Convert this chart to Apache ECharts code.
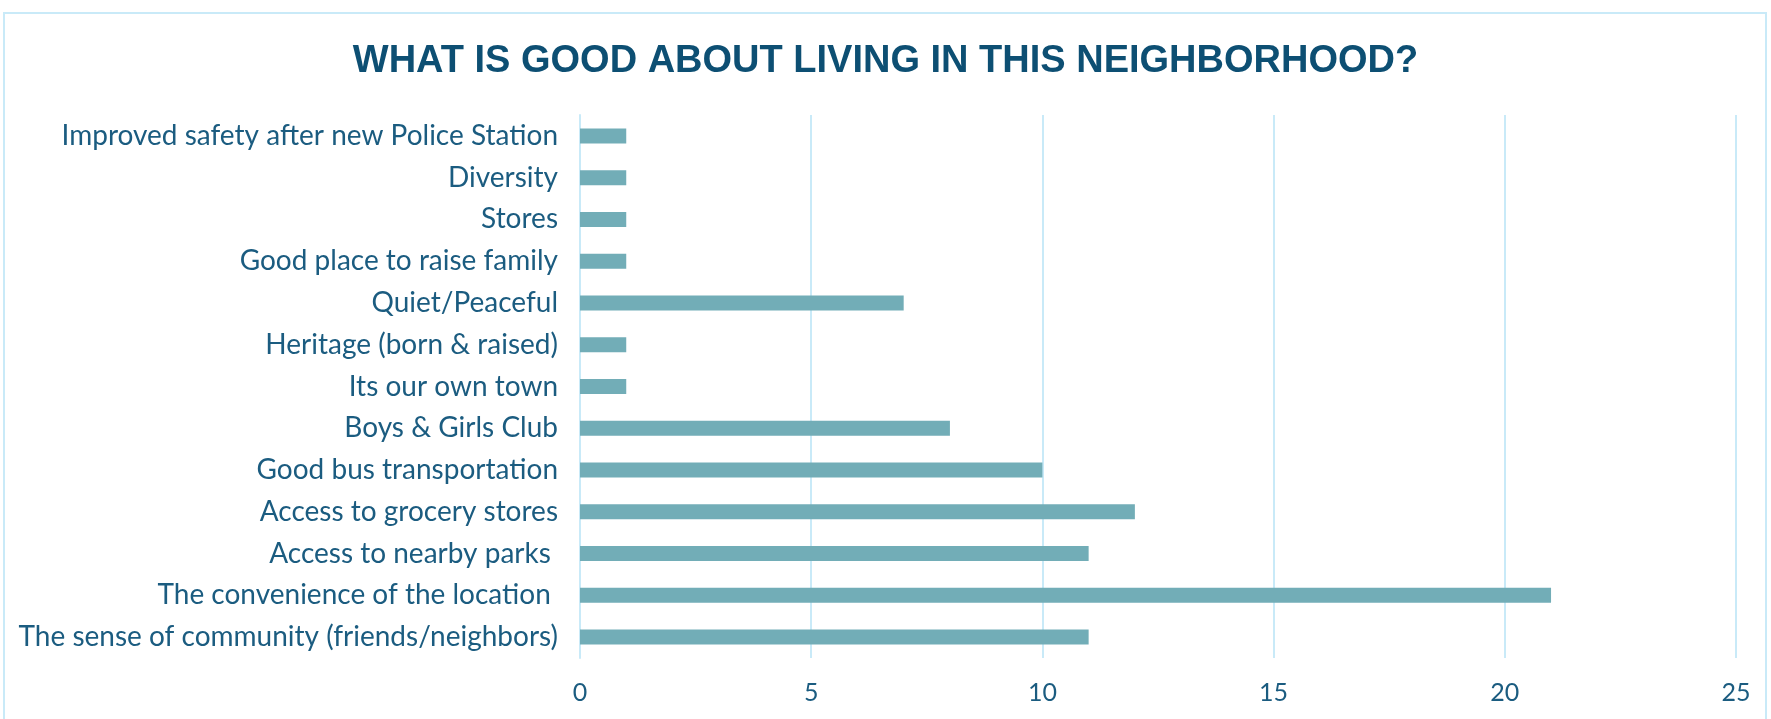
<!DOCTYPE html>
<html>
<head>
<meta charset="utf-8">
<script src="https://cdn.jsdelivr.net/npm/echarts@6/dist/echarts.min.js"></script>
<style>
  html, body { margin: 0; padding: 0; background: #ffffff; }
  #chart { width: 1771px; height: 719px; }
</style>
</head>
<body>
<div id="chart"></div>
<script>
// Survey responses, listed bottom to top as the category axis draws them
const categories = [
  'The sense of community (friends/neighbors)',
  'The convenience of the location ',
  'Access to nearby parks ',
  'Access to grocery stores',
  'Good bus transportation',
  'Boys & Girls Club',
  'Its our own town',
  'Heritage (born & raised)',
  'Quiet/Peaceful',
  'Good place to raise family',
  'Stores',
  'Diversity',
  'Improved safety after new Police Station'
];
const counts = [11, 21, 11, 12, 10, 8, 1, 1, 7, 1, 1, 1, 1];
const xTicks = [0, 5, 10, 15, 20, 25];

const chart = echarts.init(document.getElementById('chart'));
const textColor = '#1b5c80';
const gridColor = '#c9eaf8';

chart.setOption({
  animation: false,
  title: {
    text: 'WHAT IS GOOD ABOUT LIVING IN THIS NEIGHBORHOOD?',
    left: 'center',
    top: 38,
    textStyle: {
      fontFamily: 'Liberation Sans',
      fontWeight: 'bold',
      fontSize: 38,
      color: '#0d4f73'
    }
  },
  graphic: [{
    type: 'rect',
    shape: { x: 4, y: 13, width: 1762, height: 720 },
    style: { fill: 'none', stroke: gridColor, lineWidth: 2 },
    silent: true
  }],
  grid: { left: 580, right: 35, top: 115, bottom: 61, containLabel: false },
  xAxis: {
    type: 'value',
    min: xTicks[0],
    max: xTicks[xTicks.length - 1],
    interval: 5,
    axisLine: { show: false },
    axisTick: { show: false },
    splitLine: { show: true, lineStyle: { color: gridColor, width: 2 } },
    axisLabel: {
      margin: 22,
      color: textColor,
      fontFamily: 'Lato',
      fontSize: 25
    }
  },
  yAxis: {
    type: 'category',
    data: categories,
    axisLine: { show: true, lineStyle: { color: gridColor, width: 2 } },
    axisTick: { show: false },
    splitLine: { show: false },
    axisLabel: {
      margin: 22,
      color: textColor,
      fontFamily: 'Lato',
      fontSize: 28
    }
  },
  series: [{
    type: 'bar',
    data: counts,
    barWidth: 15,
    itemStyle: { color: '#72adb7' },
    label: { show: false }
  }]
});
</script>
</body>
</html>
